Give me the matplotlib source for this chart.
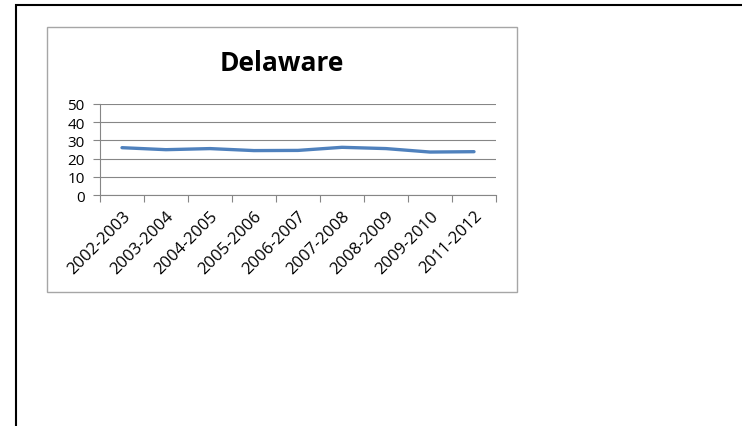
import matplotlib
matplotlib.use("Agg")
import matplotlib.pyplot as plt
from matplotlib.patches import Rectangle

categories = ["2002-2003", "2003-2004", "2004-2005", "2005-2006", "2006-2007",
              "2007-2008", "2008-2009", "2009-2010", "2011-2012"]
values = [26.0, 24.9, 25.5, 24.4, 24.5, 26.2, 25.5, 23.6, 23.8]
yticks = [0, 10, 20, 30, 40, 50]

W, H = 742, 427
fig = plt.figure(figsize=(W / 100, H / 100), dpi=100)
plt.rcParams['font.family'] = ['Open Sans', 'DejaVu Sans']

def fx(px):
    return px / W

def fy(py):
    return 1 - py / H

# outer black frame (extends past right/bottom)
fig.patches.append(Rectangle((fx(16), fy(440)), fx(760) - fx(16), fy(6) - fy(440),
                             transform=fig.transFigure, fill=False,
                             edgecolor='black', linewidth=1.5))
# inner gray chart frame
fig.patches.append(Rectangle((fx(47), fy(293)), fx(517) - fx(47), fy(28) - fy(293),
                             transform=fig.transFigure, fill=False,
                             edgecolor='#a6a6a6', linewidth=1.0))

ax = fig.add_axes([fx(100), fy(196), fx(496) - fx(100), fy(105) - fy(196)])
n = len(categories)
x = list(range(n))
ax.plot(x, values, color='#4F81BD', linewidth=2.4, solid_capstyle='round')
ax.set_xlim(-0.5, n - 0.5)
ax.set_ylim(0, 50)
ax.set_yticks(yticks)
ax.set_yticklabels([str(v) for v in yticks], fontsize=11)
ax.set_xticks(x)
ax.set_xticklabels(categories, rotation=45, ha='right', rotation_mode='anchor', fontsize=12)
ax.set_xticks([i - 0.5 for i in range(n + 1)], minor=True)
ax.tick_params(axis='x', which='major', length=0, pad=9)
ax.tick_params(axis='x', which='minor', length=5, color='#868686', width=0.8)
ax.tick_params(axis='y', length=5, color='#868686', width=0.8, pad=6)
ax.grid(axis='y', color='#868686', linewidth=0.8)
ax.set_axisbelow(True)
for s in ['top', 'right']:
    ax.spines[s].set_visible(False)
for s in ['left', 'bottom']:
    ax.spines[s].set_color('#868686')
    ax.spines[s].set_linewidth(0.8)

fig.text(fx(282), fy(64), "Delaware", fontsize=19, fontweight='bold',
         ha='center', va='center')

fig.savefig("out.png", dpi=100)
